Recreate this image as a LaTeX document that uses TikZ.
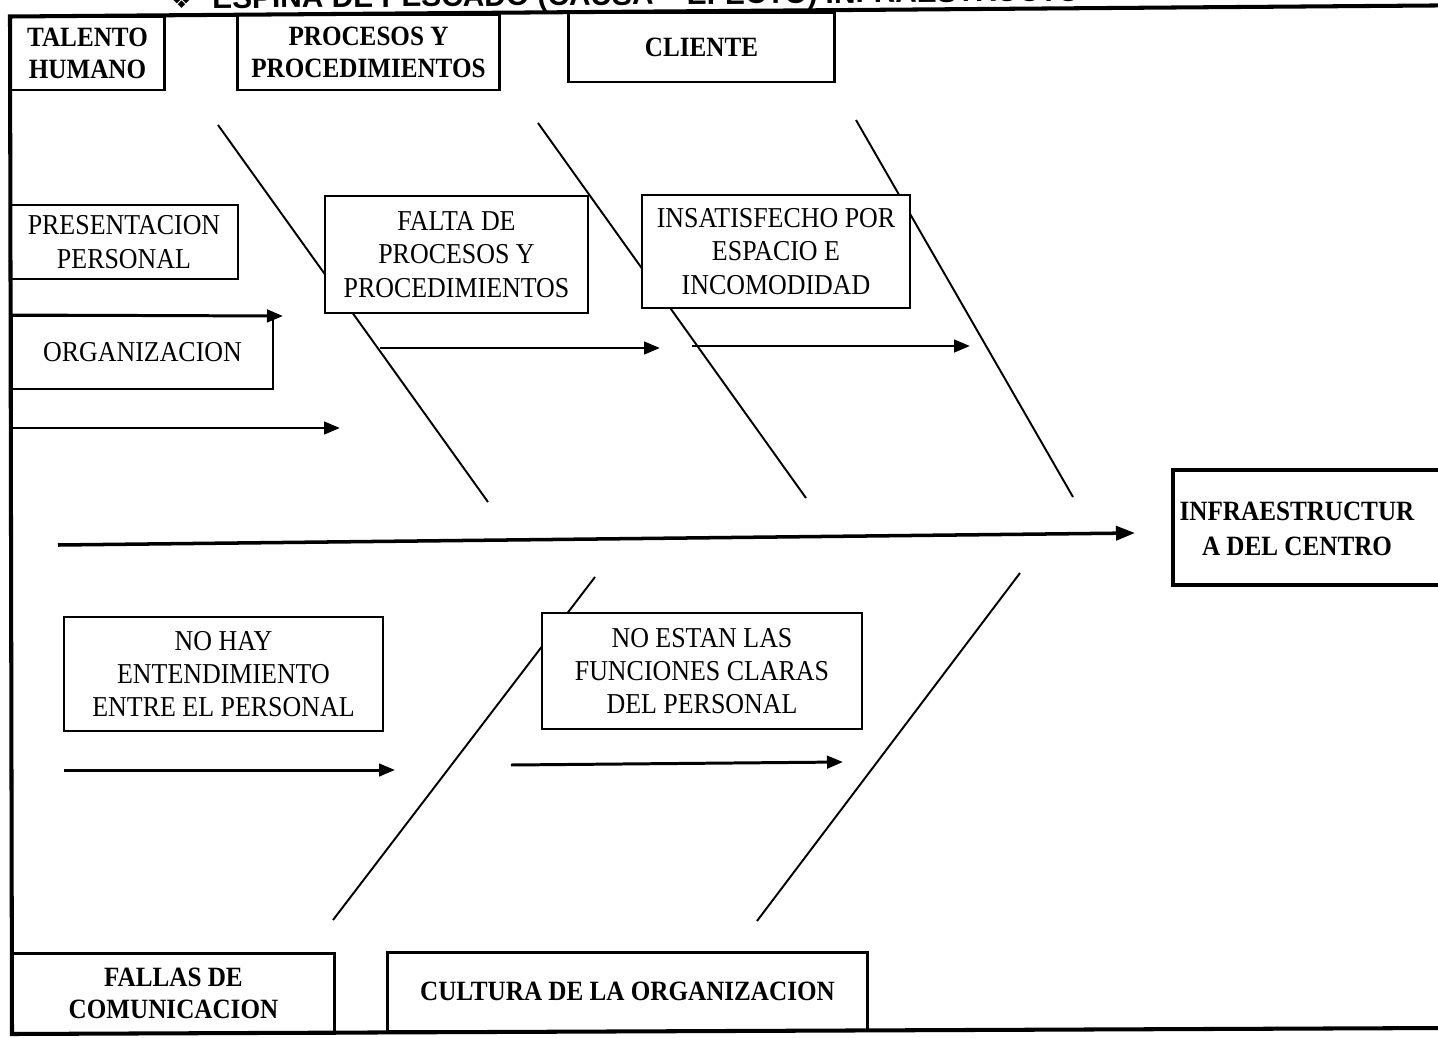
\documentclass[tikz,border=0pt]{standalone}
\usepackage{fontspec}
\setmainfont{Liberation Serif}
\newfontfamily\boxfont[FakeStretch=0.9]{Liberation Serif}
\newfontfamily\titlefont{Liberation Sans}
\newfontfamily\dingfont{DejaVu Sans}
\usetikzlibrary{arrows.meta}

\begin{document}
\begin{tikzpicture}[x=0.02cm, y=-0.02cm,
  hdr/.style={draw, line width=1.7pt, fill=white, inner sep=0pt, align=center,
    font=\boxfont\bfseries\fontsize{15.9}{18.3}\selectfont},
  cause/.style={draw, line width=1.1pt, fill=white, inner sep=0pt, align=center,
    font=\boxfont\fontsize{16.4}{19}\selectfont},
  plain/.style={inner sep=0pt, align=center},
  bone/.style={line width=1.1pt},
  subarrow/.style={line width=1.7pt, -{Triangle[length=0.32cm,width=0.25cm]}},
  spinearrow/.style={line width=2pt, -{Triangle[length=0.38cm,width=0.28cm]}},
  framing/.style={line width=2.3pt, line cap=rect},
]
\path[use as bounding box, clip] (0,0) rectangle (1438,1038);

% ---- bones (drawn first, boxes cover them) ----
\coordinate (b1t) at (218,125);  \coordinate (b1b) at (488,502);
\coordinate (b2t) at (538,123);  \coordinate (b2b) at (806,498);
\coordinate (b3t) at (856,120);  \coordinate (b3b) at (1073,497);
\coordinate (b4b) at (333,920);  \coordinate (b4t) at (595,577);
\coordinate (b5b) at (757,921);  \coordinate (b5t) at (1020,573);
\draw[bone] (b1t) -- (b1b);
\draw[bone] (b2t) -- (b2b);
\draw[bone] (b3t) -- (b3b);
\draw[bone] (b4b) -- (b4t);
\draw[bone] (b5b) -- (b5t);

% ---- category boxes ----
\node[hdr, minimum width=3.10cm, minimum height=1.48cm] (talento) at (87.5,53) {TALENTO\\HUMANO};
\node[hdr, minimum width=5.26cm, minimum height=1.52cm] (procesos) at (368.5,52) {PROCESOS Y\\PROCEDIMIENTOS};
\node[hdr, minimum width=5.34cm, minimum height=1.40cm] (cliente) at (701.5,47) {CLIENTE};
\node[hdr, minimum width=6.46cm, minimum height=1.62cm] (fallas) at (173.5,993.5) {FALLAS DE\\COMUNICACION};
\node[hdr, minimum width=9.62cm, minimum height=1.58cm] (cultura) at (627.5,991.5) {CULTURA DE LA ORGANIZACION};

% ---- effect box ----
\node[hdr, line width=2pt, minimum width=5.74cm, minimum height=2.30cm] (infra) at (1316.5,527.5) {};
\node[plain, font=\boxfont\bfseries\fontsize{15.9}{19.8}\selectfont] (infratext) at (1297,529) {INFRAESTRUCTUR\\A DEL CENTRO};

% ---- cause boxes ----
\node[cause, minimum width=4.56cm, minimum height=1.48cm] (present) at (124,242) {PRESENTACION\\PERSONAL};
\node[cause, minimum width=5.22cm, minimum height=1.46cm] (org) at (142.5,352.5) {ORGANIZACION};
\node[cause, minimum width=5.26cm, minimum height=2.34cm] (falta) at (456.5,254.5) {FALTA DE\\PROCESOS Y\\PROCEDIMIENTOS};
\node[cause, minimum width=5.36cm, minimum height=2.26cm] (insat) at (776,251.5) {INSATISFECHO POR\\ESPACIO E\\INCOMODIDAD};
\node[cause, minimum width=6.38cm, minimum height=2.28cm] (nohay) at (223.5,674) {NO HAY\\ENTENDIMIENTO\\ENTRE EL PERSONAL};
\node[cause, minimum width=6.40cm, minimum height=2.32cm] (noestan) at (702,671) {NO ESTAN LAS\\FUNCIONES CLARAS\\DEL PERSONAL};

% ---- sub-cause arrows ----
\coordinate (orgtip) at (283,316);
\coordinate (a2s) at (13,428);   \coordinate (a2e) at (340,428);
\coordinate (a3s) at (380,348);  \coordinate (a3e) at (660,348);
\coordinate (a4s) at (692,346);  \coordinate (a4e) at (970,346);
\coordinate (a5s) at (64,770);   \coordinate (a5e) at (395,770);
\coordinate (a6s) at (511,765);  \coordinate (a6e) at (843,762);
\draw[subarrow] (org.north west) -- (orgtip);
\draw[subarrow] (a2s) -- (a2e);
\draw[subarrow] (a3s) -- (a3e);
\draw[subarrow] (a4s) -- (a4e);
\draw[subarrow] (a5s) -- (a5e);
\draw[subarrow] (a6s) -- (a6e);

% ---- spine ----
\coordinate (sp0) at (58,545);
\coordinate (sp1) at (1135,533);
\draw[spinearrow] (sp0) -- (sp1);

% ---- outer frame ----
\coordinate (ftl) at (10,16.5);
\coordinate (ftr) at (1445,5.4);
\coordinate (fbl) at (12,1034);
\coordinate (fbr) at (1445,1028);
\draw[framing] (ftr) -- (ftl) -- (fbl) -- (fbr);

% ---- heading (partly cut by the page edge) ----
\node[anchor=base west, inner sep=0pt, rotate=0.5, font=\dingfont\fontsize{13}{15}\selectfont] (bullet) at (171,8.5) {❖};
\node[anchor=base west, inner sep=0pt, rotate=0.5, font=\titlefont\bfseries\fontsize{17}{20}\selectfont] (title) at (212,8.5)
  {ESPINA DE PESCADO (CAUSA – EFECTO) INFRAESTRUCTURA};
\end{tikzpicture}
\end{document}
